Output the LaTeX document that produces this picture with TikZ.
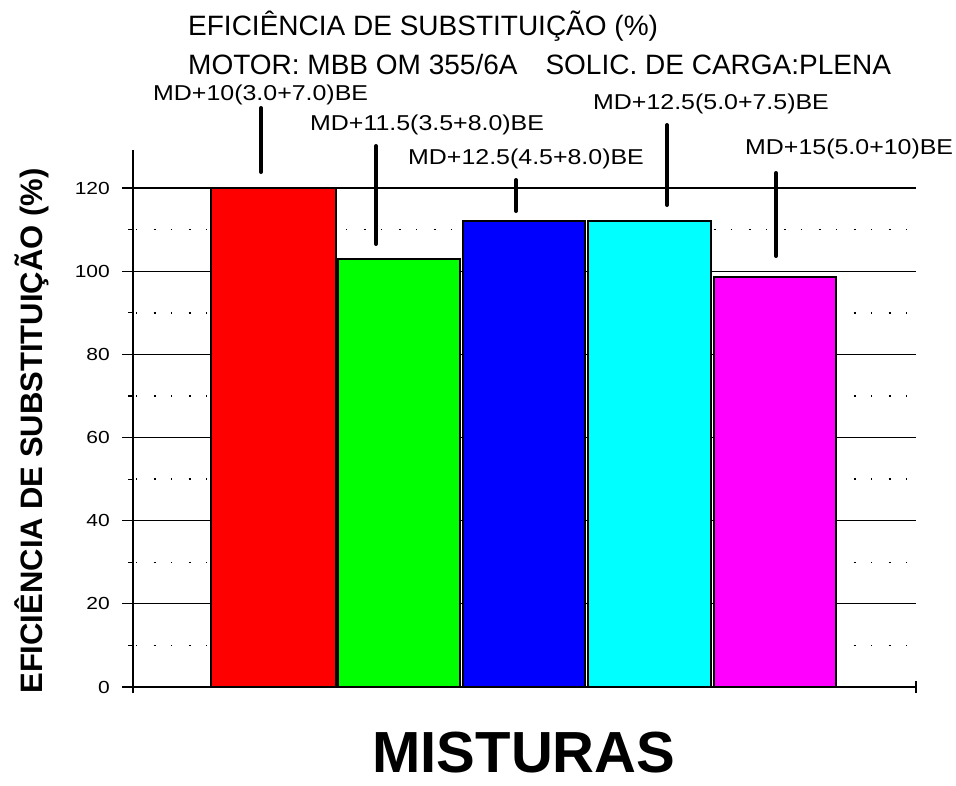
\documentclass[tikz,border=0pt]{standalone}
\usepackage{fontspec}
\setmainfont{Liberation Sans}
\newfontfamily\labelfont[FakeStretch=1.16]{Liberation Sans}
\newfontfamily\tickfont[FakeStretch=1.2]{Liberation Sans}
\usetikzlibrary{calc}
\definecolor{barred}{RGB}{255,0,0}
\definecolor{bargreen}{RGB}{0,255,0}
\definecolor{barblue}{RGB}{0,0,255}
\definecolor{barcyan}{RGB}{0,255,255}
\definecolor{barmagenta}{RGB}{255,0,255}

\begin{document}
\begin{tikzpicture}[x=1pt,y=-1pt,
    gridline/.style={line width=1.3pt},
    dotline/.style={line width=1.5pt, dash pattern=on 1.2pt off 16.3pt on 2.2pt off 15.3pt},
    barbox/.style={draw=black, line width=1.3pt},
    leader/.style={line width=4pt, line cap=round},
    lbl/.style={anchor=base west, inner sep=0pt, font=\labelfont\fontsize{21.5}{23}\selectfont}]

    \useasboundingbox (0,0) rectangle (956,785);

    % Define the origin of the axes and the scale (pixels per percent)
    \def\Xo{133}
    \def\Yo{687}
    \def\S{4.158}
    \def\Xe{916}

    % Main gridlines with the tick values
    \foreach \v in {0,20,...,120} {
        \draw[gridline] (122,{\Yo-\v*\S}) -- (\Xe,{\Yo-\v*\S});
        \node[anchor=base east, inner sep=0pt, font=\tickfont\fontsize{17.5}{18}\selectfont]
            (t\v) at (110,{\Yo-\v*\S+6}) {\v};
    }

    % Dotted lines between them
    \foreach \v in {10,30,...,110} {
        \draw[line width=1.2pt] (128,{\Yo-\v*\S}) -- (\Xo,{\Yo-\v*\S});
        \draw[dotline] (\Xo+3,{\Yo-\v*\S}) -- (\Xe,{\Yo-\v*\S});
    }

    % Axes
    \draw[line width=1.5pt] (\Xo,150) -- (\Xo,693);
    \draw[line width=1.5pt] (\Xe,681) -- (\Xe,693);

    % Bars: left, right, value, colour
    \foreach \l/\r/\v/\c in {211/336/120/barred, 338/460/102.9/bargreen,
        463/585/112.1/barblue, 588/711/112.1/barcyan, 714/836/98.6/barmagenta} {
        \draw[barbox, fill=\c] (\l,\Yo) rectangle (\r,{\Yo-\v*\S});
    }

    % Title
    \node[anchor=base west, inner sep=0pt, font=\fontsize{28}{30}\selectfont]
        (title) at (188,35) {EFICIÊNCIA DE SUBSTITUIÇÃO (\%)};
    \node[anchor=base west, inner sep=0pt, font=\fontsize{28}{30}\selectfont]
        (motor) at (188,74) {MOTOR: MBB OM 355/6A\hspace{1em}SOLIC. DE CARGA:PLENA};

    % Labels of the mixtures
    \node[lbl] (m1) at (153,100) {MD+10(3.0+7.0)BE};
    \node[lbl] (m2) at (310,130) {MD+11.5(3.5+8.0)BE};
    \node[lbl] (m3) at (408,164) {MD+12.5(4.5+8.0)BE};
    \node[lbl] (m4) at (593,109) {MD+12.5(5.0+7.5)BE};
    \node[lbl] (m5) at (745,154) {MD+15(5.0+10)BE};

    % Leader lines from the labels down to the bars
    \coordinate (a1) at (261,108); \coordinate (b1) at (261,172);
    \coordinate (a2) at (376,146); \coordinate (b2) at (376,244);
    \coordinate (a3) at (516,180); \coordinate (b3) at (516,211);
    \coordinate (a4) at (667,125); \coordinate (b4) at (667,205);
    \coordinate (a5) at (776,173); \coordinate (b5) at (776,256);
    \foreach \i in {1,...,5}
        \draw[leader] (a\i) -- (b\i);

    % Axis titles
    \node[rotate=90, anchor=base, inner sep=0pt, font=\bfseries\fontsize{31}{33}\selectfont]
        (ylabel) at (42,431) {EFICIÊNCIA DE SUBSTITUIÇÃO (\%)};
    \node[anchor=base, inner sep=0pt, font=\bfseries\fontsize{58}{60}\selectfont]
        (xlabel) at (524,772) {MISTURAS};

\end{tikzpicture}
\end{document}
